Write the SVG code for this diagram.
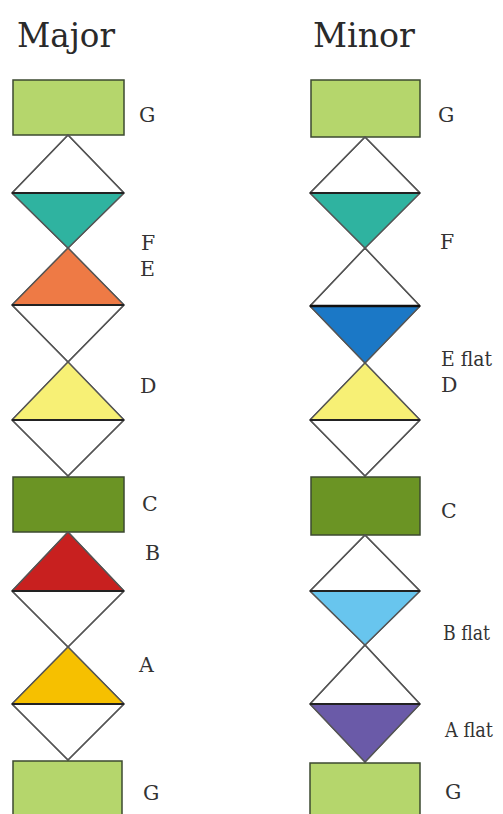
<svg xmlns="http://www.w3.org/2000/svg" width="503" height="814" viewBox="0 0 503 814">
<style>
  text{font-family:'DejaVu Serif',serif}
  .title{font-size:34px;fill:#2a2a2a}
  .lbl{font-size:20.5px;fill:#333}
  .rect{stroke:#3c4a30;stroke-width:1.5}
  .dia{fill:#fff;stroke:#555;stroke-width:1.4;stroke-linejoin:round}
  .half{stroke:none}
  .mid{stroke:#222;stroke-width:1.8}
  .lg{fill:#b5d66c}
  .dg{fill:#6b9424}
</style>
<rect width="503" height="814" fill="#fff"/>
<text class="title" x="17" y="47" textLength="98" lengthAdjust="spacingAndGlyphs">Major</text>
<text class="title" x="313" y="47" textLength="102" lengthAdjust="spacingAndGlyphs">Minor</text>

<!-- Major column -->
<g id="major-G-top"><rect class="rect lg" x="13" y="80" width="111" height="55"/><text class="lbl" x="139" y="122">G</text></g>
<g id="major-F"><polygon class="dia" points="68,135 124,193 68,248 12,193"/><polygon class="half" fill="#2fb3a0" points="12,193 124,193 68,248"/><polygon fill="none" stroke="#555" stroke-width="1.4" points="68,135 124,193 68,248 12,193"/><line class="mid" x1="12" y1="193" x2="124" y2="193"/><text class="lbl" x="141" y="250">F</text></g>
<g id="major-E"><polygon class="dia" points="68,248 124,305 68,362 12,305"/><polygon class="half" fill="#ee7a45" points="68,248 124,305 12,305"/><polygon fill="none" stroke="#555" stroke-width="1.4" points="68,248 124,305 68,362 12,305"/><line class="mid" x1="12" y1="305" x2="124" y2="305"/><text class="lbl" x="140" y="276">E</text></g>
<g id="major-D"><polygon class="dia" points="68,362 124,420 68,476 12,420"/><polygon class="half" fill="#f7f075" points="68,362 124,420 12,420"/><polygon fill="none" stroke="#555" stroke-width="1.4" points="68,362 124,420 68,476 12,420"/><line class="mid" x1="12" y1="420" x2="124" y2="420"/><text class="lbl" x="140" y="393">D</text></g>
<g id="major-C"><rect class="rect dg" x="13" y="477" width="111" height="55"/><text class="lbl" x="142" y="511">C</text></g>
<g id="major-B"><polygon class="dia" points="68,532 124,591 68,647 12,591"/><polygon class="half" fill="#c8201f" points="68,532 124,591 12,591"/><polygon fill="none" stroke="#555" stroke-width="1.4" points="68,532 124,591 68,647 12,591"/><line class="mid" x1="12" y1="591" x2="124" y2="591"/><text class="lbl" x="145" y="560">B</text></g>
<g id="major-A"><polygon class="dia" points="68,647 124,704 68,760 12,704"/><polygon class="half" fill="#f6c000" points="68,647 124,704 12,704"/><polygon fill="none" stroke="#555" stroke-width="1.4" points="68,647 124,704 68,760 12,704"/><line class="mid" x1="12" y1="704" x2="124" y2="704"/><text class="lbl" x="139" y="672">A</text></g>
<g id="major-G-bottom"><rect class="rect lg" x="13" y="761" width="109" height="60"/><text class="lbl" x="143" y="800">G</text></g>

<!-- Minor column -->
<g id="minor-G-top"><rect class="rect lg" x="311" y="80" width="109" height="57"/><text class="lbl" x="438" y="122">G</text></g>
<g id="minor-F"><polygon class="dia" points="365,137 420,193 365,248 310,193"/><polygon class="half" fill="#2fb3a0" points="310,193 420,193 365,248"/><polygon fill="none" stroke="#555" stroke-width="1.4" points="365,137 420,193 365,248 310,193"/><line class="mid" x1="310" y1="193" x2="420" y2="193"/><text class="lbl" x="440" y="249">F</text></g>
<g id="minor-Eflat"><polygon class="dia" points="365,248 420,306 365,363 310,306"/><polygon class="half" fill="#1b78c6" points="310,306 420,306 365,363"/><polygon fill="none" stroke="#555" stroke-width="1.4" points="365,248 420,306 365,363 310,306"/><line x1="310" y1="306" x2="420" y2="306" stroke="#111" stroke-width="2.5"/><text class="lbl" x="441" y="366" textLength="51" lengthAdjust="spacingAndGlyphs">E flat</text></g>
<g id="minor-D"><polygon class="dia" points="365,363 420,420 365,476 310,420"/><polygon class="half" fill="#f7f075" points="365,363 420,420 310,420"/><polygon fill="none" stroke="#555" stroke-width="1.4" points="365,363 420,420 365,476 310,420"/><line class="mid" x1="310" y1="420" x2="420" y2="420"/><text class="lbl" x="441" y="392">D</text></g>
<g id="minor-C"><rect class="rect dg" x="311" y="477" width="109" height="58"/><text class="lbl" x="441" y="518">C</text></g>
<g id="minor-Bflat"><polygon class="dia" points="365,535 420,591 365,645 310,591"/><polygon class="half" fill="#68c5ee" points="310,591 420,591 365,645"/><polygon fill="none" stroke="#555" stroke-width="1.4" points="365,535 420,591 365,645 310,591"/><line class="mid" x1="310" y1="591" x2="420" y2="591"/><text class="lbl" x="443" y="640" textLength="47" lengthAdjust="spacingAndGlyphs">B flat</text></g>
<g id="minor-Aflat"><polygon class="dia" points="365,645 420,704 365,762 310,704"/><polygon class="half" fill="#6a5aa8" points="310,704 420,704 365,762"/><polygon fill="none" stroke="#555" stroke-width="1.4" points="365,645 420,704 365,762 310,704"/><line class="mid" x1="310" y1="704" x2="420" y2="704"/><text class="lbl" x="445" y="737" textLength="48" lengthAdjust="spacingAndGlyphs">A flat</text></g>
<g id="minor-G-bottom"><rect class="rect lg" x="310" y="763" width="110" height="60"/><text class="lbl" x="445" y="799">G</text></g>

<g id="connectors"></g>
</svg>
